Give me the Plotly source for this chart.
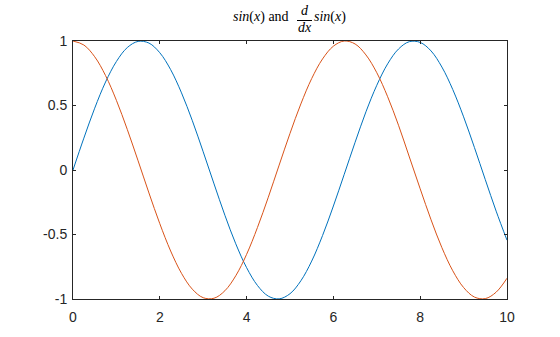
import plotly.graph_objects as go

x_vals = [i * 0.25 for i in range(41)]
sin_vals = [0.0, 0.247, 0.479, 0.682, 0.841, 0.949, 0.997, 0.984, 0.909, 0.778,
            0.598, 0.382, 0.141, -0.108, -0.351, -0.572, -0.757, -0.895, -0.978, -0.999,
            -0.959, -0.859, -0.706, -0.508, -0.279, -0.033, 0.215, 0.451, 0.657, 0.823,
            0.938, 0.995, 0.989, 0.923, 0.798, 0.624, 0.412, 0.174, -0.075, -0.319, -0.544]
cos_vals = [1.0, 0.969, 0.878, 0.732, 0.540, 0.315, 0.071, -0.178, -0.416, -0.628,
            -0.801, -0.924, -0.990, -0.994, -0.936, -0.820, -0.654, -0.446, -0.211, 0.038,
            0.284, 0.512, 0.709, 0.861, 0.960, 1.000, 0.977, 0.892, 0.754, 0.568,
            0.347, 0.101, -0.146, -0.386, -0.602, -0.781, -0.911, -0.985, -0.997, -0.947, -0.839]
x_ticks = [0, 2, 4, 6, 8, 10]
y_ticks = [-1, -0.5, 0, 0.5, 1]
y_tick_text = ["-1", "-0.5", "0", "0.5", "1"]

W, H = 560, 337
L, R, T, B = 73, 53, 41, 38
pw, ph = W - L - R, H - T - B

def px(xp):
    return (xp - L) / pw

def py(yp):
    return (H - B - yp) / ph

fig = go.Figure()
fig.add_trace(go.Scatter(x=x_vals, y=sin_vals, mode="lines", line=dict(color="#0072bd", width=1, shape="spline"), showlegend=False))
fig.add_trace(go.Scatter(x=x_vals, y=cos_vals, mode="lines", line=dict(color="#d95319", width=1, shape="spline"), showlegend=False))

axis_common = dict(showgrid=False, zeroline=False, showline=True, mirror="ticks",
                   linecolor="#262626", linewidth=1, ticks="inside", ticklen=3,
                   tickcolor="#262626", tickfont=dict(family="Liberation Sans, Arial, sans-serif", size=14, color="#262626"))
fig.update_xaxes(range=[0, 10], tickvals=x_ticks, ticktext=[str(v) for v in x_ticks],
                 ticklabelstandoff=5, **axis_common)
fig.update_yaxes(range=[-1, 1], tickvals=y_ticks, ticktext=y_tick_text,
                 ticklabelstandoff=2, **axis_common)

tfont = dict(family="'Liberation Serif', 'DejaVu Serif', serif", size=14, color="#000000")
annos = [
    dict(text="<i>sin</i>(<i>x</i>) and", x=px(291), y=py(17), xanchor="right", yanchor="middle"),
    dict(text="<i>d</i>", x=px(304.5), y=py(10), xanchor="center", yanchor="middle"),
    dict(text="<i>dx</i>", x=px(304.5), y=py(28), xanchor="center", yanchor="middle"),
    dict(text="<i>sin</i>(<i>x</i>)", x=px(312), y=py(17), xanchor="left", yanchor="middle"),
]
for a in annos:
    fig.add_annotation(xref="paper", yref="paper", showarrow=False, font=tfont, **a)
fig.add_shape(type="line", xref="paper", yref="paper", x0=px(297), x1=px(312), y0=py(20.5), y1=py(20.5),
              line=dict(color="#000000", width=1))

fig.update_layout(width=W, height=H, margin=dict(l=L, r=R, t=T, b=B),
                  paper_bgcolor="white", plot_bgcolor="white")
fig.write_html("out.html")
